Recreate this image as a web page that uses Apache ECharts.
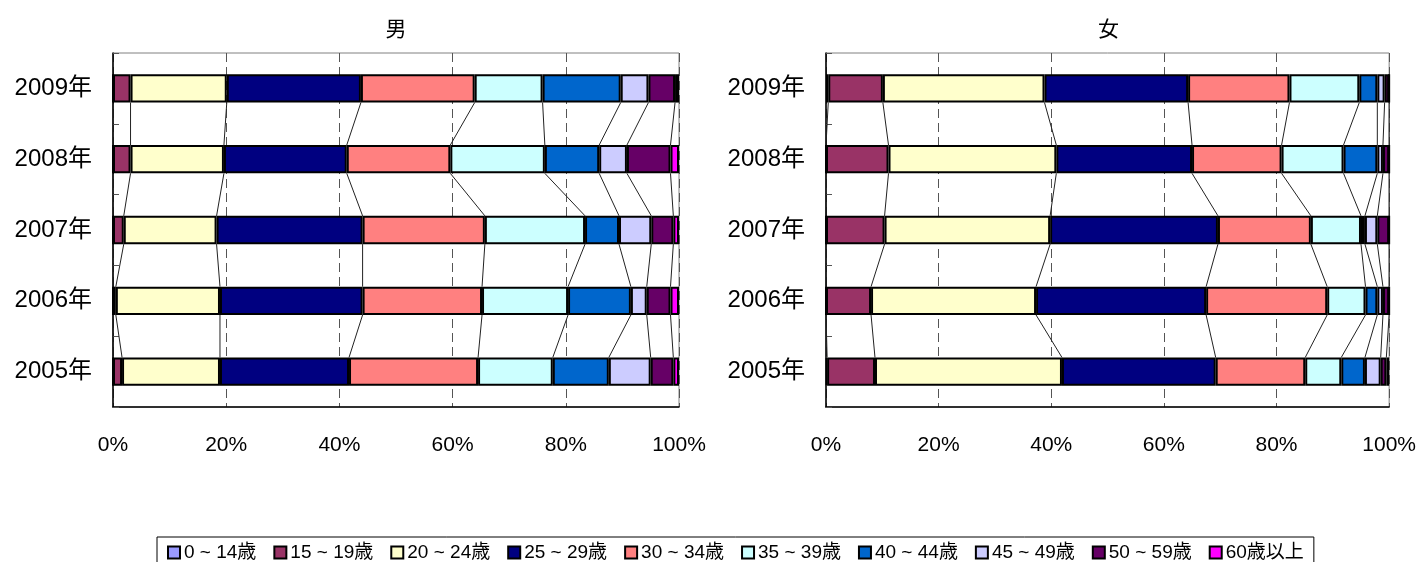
<!DOCTYPE html>
<html><head><meta charset="utf-8">
<script src="https://cdn.jsdelivr.net/npm/echarts@6/dist/echarts.min.js"></script>
<style>html,body{margin:0;padding:0;background:#fff}#c{width:1419px;height:562px}</style>
</head><body><div id="c"></div>
<script>
// ---- data ----
const years = ['2009年', '2008年', '2007年', '2006年', '2005年'];
const ageGroups = ['0 ~ 14歳', '15 ~ 19歳', '20 ~ 24歳', '25 ~ 29歳', '30 ~ 34歳', '35 ~ 39歳', '40 ~ 44歳', '45 ~ 49歳', '50 ~ 59歳', '60歳以上'];
const groupColors = ['#9999FF', '#993366', '#FFFFCC', '#000080', '#FF8080', '#CCFFFF', '#0066CC', '#CCCCFF', '#660066', '#FF00FF'];
const xTicks = [0, 20, 40, 60, 80, 100];
const panelTitles = ['男', '女'];

// shares (%) by age group, one array per year
const male2009 = [0, 3.1, 17.0, 23.7, 20.1, 12.0, 13.8, 4.9, 4.7, 0.7];
const male2008 = [0, 3.1, 16.5, 21.7, 18.3, 16.7, 9.6, 4.9, 7.7, 1.5];
const male2007 = [0, 1.9, 16.4, 25.8, 21.6, 17.7, 6.0, 5.7, 3.9, 1.0];
const male2006 = [0, 0.5, 18.4, 25.2, 21.1, 15.2, 11.1, 2.8, 4.2, 1.5];
const male2005 = [0, 1.6, 17.3, 22.8, 22.8, 13.2, 9.9, 7.4, 4.0, 1.0];

const female2009 = [0.4, 9.7, 28.7, 25.5, 18.0, 12.4, 3.2, 1.3, 0.8, 0];
const female2008 = [0, 11.1, 29.8, 24.1, 15.9, 11.0, 6.0, 1.0, 1.1, 0];
const female2007 = [0, 10.4, 29.4, 29.8, 16.5, 8.9, 0.7, 2.2, 2.1, 0];
const female2006 = [0, 8.0, 29.3, 30.2, 21.5, 6.8, 2.1, 1.0, 1.1, 0];
const female2005 = [0.2, 8.5, 33.2, 27.3, 15.9, 6.4, 4.2, 2.8, 1.0, 0.5];

const maleYears = [male2009, male2008, male2007, male2006, male2005];
const femaleYears = [female2009, female2008, female2007, female2006, female2005];

// ---- build ----
const FONT = "'Liberation Sans', 'Noto Sans CJK JP', sans-serif";
const BAR_FRAC = 0.4;
const panels = [
  { rows: maleYears, grid: { left: 113, top: 53, width: 566, height: 354 } },
  { rows: femaleYears, grid: { left: 826, top: 53, width: 565, height: 354 } }
];

const grids = [], xAxes = [], yAxes = [], series = [], graphics = [];
panels.forEach((p, pi) => {
  grids.push(Object.assign({ show: true, borderColor: '#808080', borderWidth: 1, backgroundColor: '#fff' }, p.grid));
  xAxes.push({
    type: 'value', gridIndex: pi, min: xTicks[0], max: xTicks[xTicks.length - 1], interval: xTicks[1] - xTicks[0],
    axisLine: { show: true, lineStyle: { color: '#000', width: 1.5 } },
    axisTick: { show: false },
    axisLabel: { formatter: '{value}%', color: '#000', fontSize: 21, fontFamily: FONT, margin: 28 },
    splitLine: { show: true, lineStyle: { color: '#555', width: 1, type: [9, 5] } }
  });
  yAxes.push({
    type: 'category', gridIndex: pi, data: years, inverse: true,
    axisLine: { show: true, lineStyle: { color: '#000', width: 1.5 } },
    axisTick: { show: true, inside: true, length: 6, lineStyle: { color: '#555' } },
    axisLabel: { color: '#000', fontSize: 24, fontFamily: FONT, margin: 21 },
    splitLine: { show: false }
  });
  ageGroups.forEach((g, gi) => {
    series.push({
      type: 'bar', name: g, xAxisIndex: pi, yAxisIndex: pi, stack: 'p' + pi,
      barWidth: (BAR_FRAC * 100) + '%',
      itemStyle: { color: groupColors[gi], borderColor: '#000', borderWidth: 2 },
      data: p.rows.map(r => r[gi]), z: 3
    });
  });
  // series lines between consecutive bars
  const conn = [];
  for (let i = 0; i < p.rows.length - 1; i++) {
    let a = 0, b = 0;
    for (let k = 0; k < ageGroups.length - 1; k++) {
      a += p.rows[i][k]; b += p.rows[i + 1][k];
      conn.push([a, i, b, i + 1]);
    }
  }
  series.push({
    type: 'custom', xAxisIndex: pi, yAxisIndex: pi, silent: true, z: 2,
    encode: { x: [0, 2], y: [1, 3] },
    data: conn,
    renderItem: function (params, api) {
      const p1 = api.coord([api.value(0), api.value(1)]);
      const p2 = api.coord([api.value(2), api.value(3)]);
      const half = api.size([0, 1])[1] * BAR_FRAC / 2;
      const s = p2[1] > p1[1] ? 1 : -1;
      return {
        type: 'line',
        shape: { x1: p1[0], y1: p1[1] + s * half, x2: p2[0], y2: p2[1] - s * half },
        style: { stroke: '#222', lineWidth: 1 }
      };
    }
  });
  graphics.push({
    type: 'text', x: p.grid.left + p.grid.width / 2, y: 28,
    style: { text: panelTitles[pi], fill: '#000', font: "21px 'Noto Sans CJK JP', sans-serif", textAlign: 'center', textVerticalAlign: 'middle' }
  });
});

const chart = echarts.init(document.getElementById('c'), null, { renderer: 'canvas' });
chart.setOption({
  animation: false,
  backgroundColor: '#fff',
  grid: grids, xAxis: xAxes, yAxis: yAxes, series: series, graphic: graphics,
  legend: {
    data: ageGroups, left: 157, top: 537, icon: 'rect', itemWidth: 12, itemHeight: 12, itemGap: 17,
    padding: [6, 10, 12, 10], borderColor: '#000', borderWidth: 1,
    textStyle: { color: '#000', fontSize: 19, fontFamily: FONT, padding: [0, 0, 0, -1] }
  }
});
</script></body></html>
